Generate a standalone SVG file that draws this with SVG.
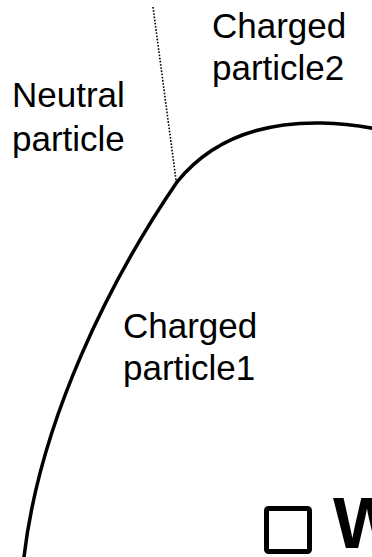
<svg xmlns="http://www.w3.org/2000/svg" width="372" height="557" viewBox="0 0 372 557">
<style>
.lbl{font-family:"Liberation Sans",Arial,Helvetica,sans-serif;font-size:35px;fill:#000}
.trk{fill:none;stroke:#000;stroke-width:3.5;stroke-linecap:round}
.neu{fill:none;stroke:#000;stroke-width:1.6;stroke-dasharray:1.6,1.6}
</style>
<rect width="372" height="557" fill="#fff"/>
<g id="connectors">
<path id="charged1-track" class="trk" d="M24,557 C40,420 110,280 177,182"/>
<path id="charged2-track" class="trk" d="M177,182 C215,135 270,122 322,123 C345,123.5 360,126 374,128.5"/>
<path id="neutral-track" class="neu" d="M153,7 L176,180"/>
</g>
<g id="neutral-particle">
<text class="lbl" x="12" y="107">Neutral</text>
<text class="lbl" x="12" y="151">particle</text>
</g>
<g id="charged-particle2">
<text class="lbl" x="212" y="38">Charged</text>
<text class="lbl" x="212" y="80">particle2</text>
</g>
<g id="charged-particle1">
<text class="lbl" x="123" y="338">Charged</text>
<text class="lbl" x="123" y="380">particle1</text>
</g>
<g id="title">
<rect x="266.5" y="508.5" width="43" height="43" rx="2" fill="none" stroke="#000" stroke-width="5"/>
<text x="333" y="548" font-family="'Liberation Sans',Arial,Helvetica,sans-serif" font-size="72" font-weight="bold" fill="#000">W</text>
</g>
</svg>
